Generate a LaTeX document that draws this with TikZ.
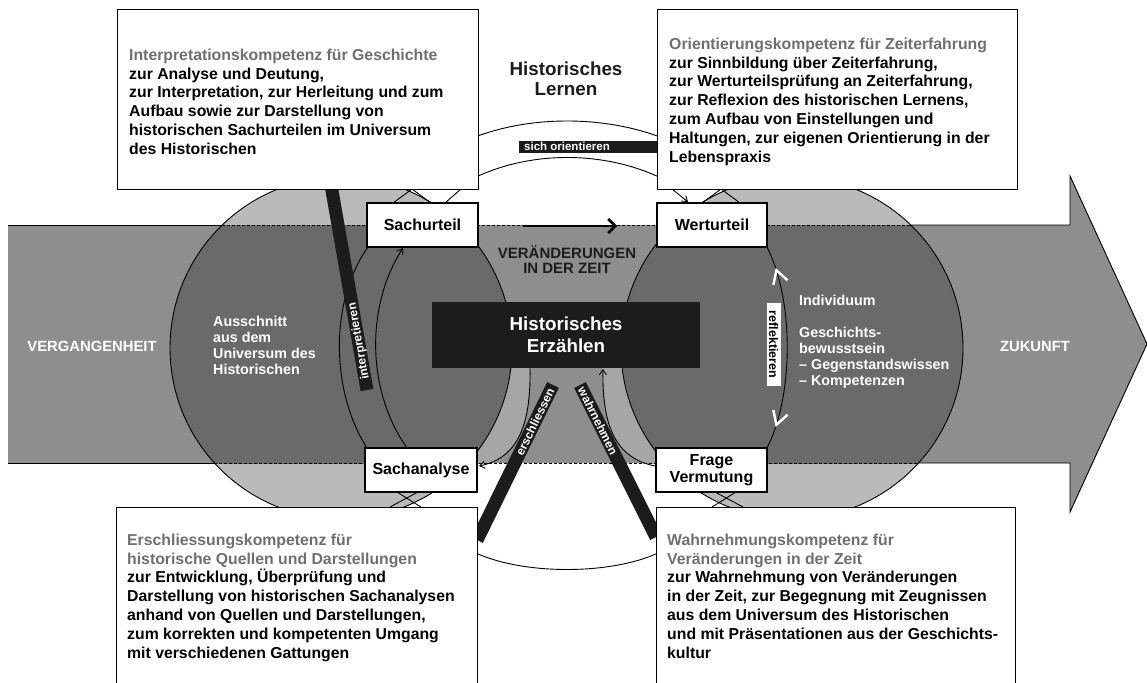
\documentclass[tikz,border=0pt]{standalone}
\usepackage{fontspec}
\setmainfont{Liberation Sans}
\usetikzlibrary{arrows.meta,decorations.markings,calc}
\definecolor{bandgrey}{HTML}{8E8E8E}
\definecolor{circdark}{HTML}{6A6A6A}
\definecolor{capgrey}{HTML}{BABABA}
\definecolor{stripgrey}{HTML}{A6A6A6}
\definecolor{headgrey}{HTML}{6F6F6F}
\definecolor{nearblack}{HTML}{1C1C1C}
\newcommand{\myfs}[2]{\fontsize{#1}{#2}\selectfont}
\begin{document}
\begin{tikzpicture}[x=1pt,y=-1pt,
  bigbox/.style={draw=black, fill=white, line width=1.2pt, inner sep=0pt, anchor=north west},
  smallbox/.style={draw=black, fill=white, line width=1.1pt, inner sep=0pt, minimum height=44pt, align=center, font=\myfs{16}{17}\bfseries},
  boxtext/.style={anchor=north west, inner sep=0pt, align=left, font=\myfs{15.8}{18.9}\bfseries},
  whitelabel/.style={text=white, inner sep=0pt, align=left, anchor=north west, font=\myfs{14.3}{16}\bfseries},
  caplabel/.style={text=white, inner sep=0pt, font=\myfs{14.8}{16}\bfseries},
  thinline/.style={line width=0.9pt, draw=black},
  bar/.style={line width=13pt, draw=nearblack},
  bartext/.style={text=white, inner sep=0pt, font=\myfs{12}{12}\bfseries},
  smallhead/.style={-{Straight Barb[length=5pt,width=7pt]}},
]
\useasboundingbox (0,0) rectangle (1147,682);
\clip (0,0) rectangle (1147,682);
\fill[white] (0,0) rectangle (1147,682);

% ---------- big arrow (time band)
\fill[bandgrey] (8,225) -- (1070,225) -- (1070,176) -- (1147,344) -- (1070,512) -- (1070,463) -- (8,463) -- cycle;

% ---------- two big circles
\fill[capgrey] (341,348) circle[radius=171];
\fill[capgrey] (792,348) circle[radius=171];
\begin{scope}
  \clip (8,225) rectangle (1070,463);
  \fill[circdark] (341,348) circle[radius=171];
  \fill[circdark] (792,348) circle[radius=171];
\end{scope}

% ---------- lighter strips near the narration box
\begin{scope}
  \clip (8,225) rectangle (1070,463);
  \begin{scope}
    \clip (530,368) .. controls (531,425) and (518,458) .. (480,466) -- (470,466) -- (470,368) -- cycle;
    \fill[stripgrey, even odd rule] (440,360) rectangle (545,470) (341,348) circle[radius=171];
  \end{scope}
  \begin{scope}
    \clip (603,368) .. controls (602,425) and (615,458) .. (653,466) -- (663,466) -- (663,368) -- cycle;
    \fill[stripgrey, even odd rule] (588,360) rectangle (693,470) (792,348) circle[radius=171];
  \end{scope}
\end{scope}

% ---------- band outline
\draw[thinline] (8,225) -- (222.2,225);
\draw[thinline] (910.8,225) -- (1070,225) -- (1070,176) -- (1147,344) -- (1070,512) -- (1070,463) -- (918.6,463);
\draw[thinline] (8,463) -- (214.4,463);
\draw[thinline, dash pattern=on 3pt off 2pt] (222.2,225) -- (910.8,225);
\draw[thinline, dash pattern=on 3pt off 2pt] (214.4,463) -- (918.6,463);
\draw[thinline] (341,348) circle[radius=171];
\draw[thinline] (792,348) circle[radius=171];

% ---------- named points of the learning cycle
\coordinate (l1a) at (367,448);  \coordinate (l1b) at (368,247);
\coordinate (l2a) at (407,448);  \coordinate (l2b) at (403,248);
\coordinate (r1a) at (767,247);  \coordinate (r1b) at (767,448);
\coordinate (ea) at (530,368);   \coordinate (eb) at (479,466);
\coordinate (wa) at (655,466);   \coordinate (wb) at (603,369);
\coordinate (toa) at (470,139);  \coordinate (tob) at (665,139);
\coordinate (tia) at (470,180);  \coordinate (tib) at (665,180);
\coordinate (boa) at (470,550);  \coordinate (bob) at (664,550);
\coordinate (ori1) at (672,189); \coordinate (ori2) at (688,202);
\coordinate (arrA) at (523,226); \coordinate (arrB) at (617,226);

% ring arcs
\draw[thinline] (l1a) .. controls (330,390) and (330,300) .. (l1b);
\draw[thinline, smallhead] (l2a) .. controls (366,390) and (366,305) .. (l2b);
\draw[thinline, postaction={decorate}, decoration={markings,
   mark=at position 0.11 with {\arrowreversed{Straight Barb[color=white,line width=2.4pt,length=13pt,width=15pt]}},
   mark=at position 0.89 with {\arrow{Straight Barb[color=white,line width=2.4pt,length=13pt,width=15pt]}}}]
   (r1a) .. controls (794,300) and (794,395) .. (r1b);
\draw[thinline, smallhead] (ea) .. controls (531,425) and (518,458) .. (eb);
\draw[thinline, smallhead] (wa) .. controls (615,458) and (602,425) .. (wb);
\draw[thinline] (toa) .. controls (528,115) and (606,115) .. (tob);
\draw[thinline] (tia) .. controls (528,150) and (606,150) .. (tib);
\draw[thinline] (boa) .. controls (518,576) and (616,576) .. (bob);
\draw[thinline, smallhead] (ori1) -- (ori2);
% short crossing strokes between boxes
\draw[thinline] (393,203) -- (412,189) -- (431,203);
\draw[thinline] (445,203) -- (461,189);
\draw[thinline] (702,203) -- (721,189) -- (740,203);
\draw[thinline] (390,507) -- (418,492);
\draw[thinline] (397,492) -- (421,507);
\draw[thinline] (743,507) -- (715,492);
\draw[thinline] (736,492) -- (712,507);

% thick arrow Sachurteil -> Werturteil
\draw[line width=2.6pt, -{Straight Barb[length=7pt,width=14pt]}] (arrA) -- (arrB);

% ---------- black bars
\draw[bar] (331,185) -- (367,390);
\node[bartext, rotate=100] at (359,341) {interpretieren};
\draw[bar] (477,540) -- (553,385);
\node[bartext, rotate=63.9] at (535,422) {erschliessen};
\draw[bar] (656,537) -- (580,385);
\node[bartext, rotate=-63.4] at (598,421) {wahrnehmen};
\fill[nearblack] (519,140.5) rectangle (660,153);
\node[bartext, anchor=west, font=\myfs{11.5}{12}\bfseries] at (524,146.8) {sich orientieren};

% reflektieren label
\node[fill=white, inner sep=0pt, rotate=-90, minimum width=83pt, minimum height=14pt, font=\myfs{12.5}{13}\bfseries] at (773.5,344.5) {reflektieren};

% ---------- competence boxes
\node[bigbox, minimum width=361pt, minimum height=180pt] (tlbox) at (117,9) {};
\node[bigbox, minimum width=360pt, minimum height=180pt] (trbox) at (657,9) {};
\node[bigbox, minimum width=361pt, minimum height=200pt] (blbox) at (116,507) {};
\node[bigbox, minimum width=359pt, minimum height=200pt] (brbox) at (656,507) {};

\node[boxtext] (tltext) at (129,48.5) {{\color{headgrey}Interpretationskompetenz für Geschichte}\\
zur Analyse und Deutung,\\
zur Interpretation, zur Herleitung und zum\\
Aufbau sowie zur Darstellung von\\
historischen Sachurteilen im Universum\\
des Historischen};
\node[boxtext] (trtext) at (669,37.5) {{\color{headgrey}Orientierungskompetenz für Zeiterfahrung}\\
zur Sinnbildung über Zeiterfahrung,\\
zur Werturteilsprüfung an Zeiterfahrung,\\
zur Reflexion des historischen Lernens,\\
zum Aufbau von Einstellungen und\\
Haltungen, zur eigenen Orientierung in der\\
Lebenspraxis};
\node[boxtext] (bltext) at (127,533.5) {{\color{headgrey}Erschliessungskompetenz für}\\
{\color{headgrey}historische Quellen und Darstellungen}\\
zur Entwicklung, Überprüfung und\\
Darstellung von historischen Sachanalysen\\
anhand von Quellen und Darstellungen,\\
zum korrekten und kompetenten Umgang\\
mit verschiedenen Gattungen};
\node[boxtext] (brtext) at (667,533.5) {{\color{headgrey}Wahrnehmungskompetenz für}\\
{\color{headgrey}Veränderungen in der Zeit}\\
zur Wahrnehmung von Veränderungen\\
in der Zeit, zur Begegnung mit Zeugnissen\\
aus dem Universum des Historischen\\
und mit Präsentationen aus der Geschichts-\\
kultur};

% ---------- cycle stations
\node[smallbox, minimum width=111pt] (sachurteil) at (422.5,225) {Sachurteil};
\node[smallbox, minimum width=110pt] (werturteil) at (712,225) {Werturteil};
\node[smallbox, minimum width=112pt] (sachanalyse) at (421,470) {Sachanalyse};
\node[smallbox, minimum width=111pt] (frage) at (711.5,470) {Frage\\Vermutung};

% ---------- centre
\node[fill=nearblack, minimum width=268pt, minimum height=66pt, inner sep=0pt, text=white, align=center, font=\myfs{18.8}{22}\bfseries] (erz) at (566,335) {Historisches\\Erzählen};
\node[align=center, inner sep=0pt, text=nearblack, font=\myfs{15}{15.5}\bfseries] (veraend) at (567,259.5) {VERÄNDERUNGEN\\IN DER ZEIT};
\node[align=center, inner sep=0pt, text=nearblack, font=\myfs{18.8}{20}\bfseries] (lernen) at (566,79) {Historisches\\Lernen};

% ---------- labels on the band
\node[caplabel] (verg) at (92,346) {VERGANGENHEIT};
\node[caplabel] (zuk) at (1035,346) {ZUKUNFT};
\node[whitelabel] (aus) at (213,316) {Ausschnitt\\aus dem\\Universum des\\Historischen};
\node[whitelabel] (indiv) at (799,295) {Individuum\\[16pt]Geschichts-\\bewusstsein\\– Gegenstandswissen\\– Kompetenzen};
\end{tikzpicture}
\end{document}
